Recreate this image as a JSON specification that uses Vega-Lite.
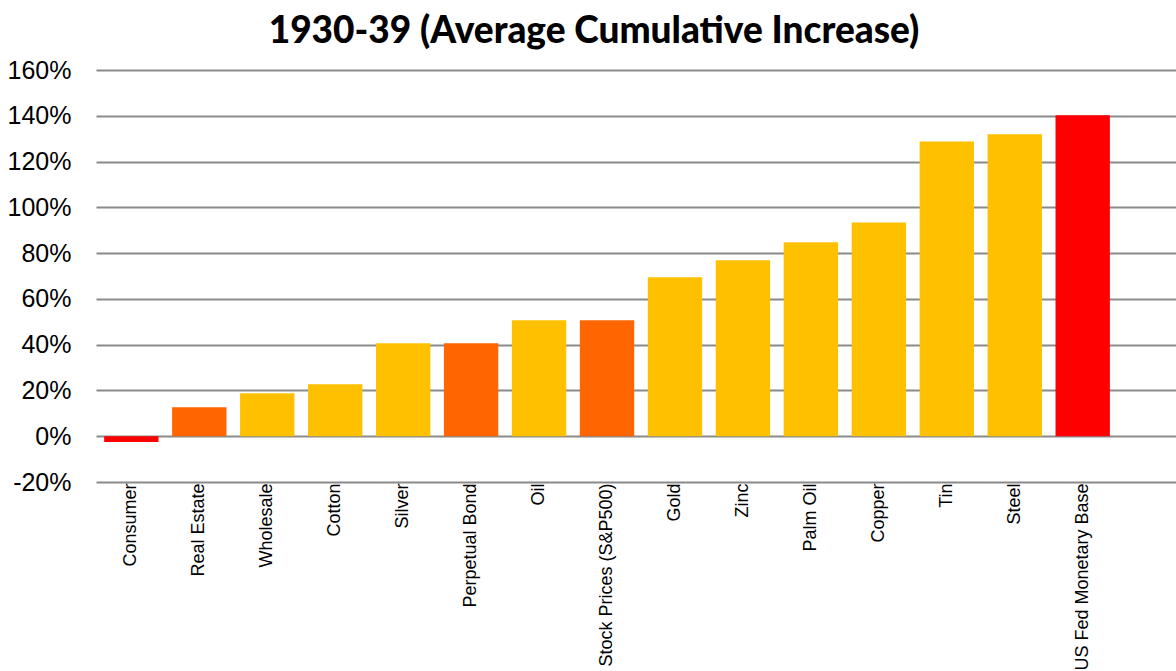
{
  "$schema": "https://vega.github.io/schema/vega-lite/v6.json",
  "autosize": {"type": "none"},
  "width": 1090,
  "height": 412,
  "padding": {"left": 96, "top": 70, "right": 0, "bottom": 189},
  "background": "white",
  "title": {
    "text": "1930-39 (Average Cumulative Increase)",
    "font": "Lato",
    "fontWeight": 900,
    "fontSize": 37,
    "color": "#000000",
    "anchor": "middle",
    "frame": "group",
    "dx": -47,
    "offset": 7
  },
  "data": {
    "values": [
      {"item": "Consumer", "kind": "Money & prices", "change": -0.025},
      {"item": "Real Estate", "kind": "Financial asset", "change": 0.127},
      {"item": "Wholesale", "kind": "Commodity", "change": 0.188},
      {"item": "Cotton", "kind": "Commodity", "change": 0.227},
      {"item": "Silver", "kind": "Commodity", "change": 0.406},
      {"item": "Perpetual Bond", "kind": "Financial asset", "change": 0.406},
      {"item": "Oil", "kind": "Commodity", "change": 0.507},
      {"item": "Stock Prices (S&P500)", "kind": "Financial asset", "change": 0.507},
      {"item": "Gold", "kind": "Commodity", "change": 0.694},
      {"item": "Zinc", "kind": "Commodity", "change": 0.769},
      {"item": "Palm Oil", "kind": "Commodity", "change": 0.847},
      {"item": "Copper", "kind": "Commodity", "change": 0.934},
      {"item": "Tin", "kind": "Commodity", "change": 1.288},
      {"item": "Steel", "kind": "Commodity", "change": 1.319},
      {"item": "US Fed Monetary Base", "kind": "Money & prices", "change": 1.402}
    ]
  },
  "mark": {"type": "bar"},
  "encoding": {
    "x": {
      "field": "item",
      "type": "nominal",
      "scale": {
        "domain": ["Consumer", "Real Estate", "Wholesale", "Cotton", "Silver", "Perpetual Bond", "Oil", "Stock Prices (S&P500)", "Gold", "Zinc", "Palm Oil", "Copper", "Tin", "Steel", "US Fed Monetary Base", " "],
        "paddingInner": 0.2,
        "paddingOuter": 0.12
      },
      "axis": {
        "title": null,
        "labelAngle": -90,
        "labelAlign": "right",
        "labelBaseline": "middle",
        "labelPadding": 1,
        "labelFont": "Liberation Sans",
        "labelFontSize": 18,
        "labelColor": "#000000",
        "labelLimit": 300,
        "domain": false,
        "ticks": false,
        "grid": false
      }
    },
    "y": {
      "field": "change",
      "type": "quantitative",
      "scale": {"domain": [-0.2, 1.6], "nice": false, "zero": false},
      "axis": {
        "title": null,
        "values": [-0.2, 0, 0.2, 0.4, 0.6, 0.8, 1.0, 1.2, 1.4, 1.6],
        "labelExpr": "round(datum.value * 100) + '%'",
        "labelFont": "Liberation Sans",
        "labelFontSize": 25,
        "labelColor": "#000000",
        "labelPadding": 25,
        "labelBaseline": "middle",
        "domain": false,
        "ticks": false,
        "grid": true,
        "gridColor": "#8a8a8a",
        "gridWidth": 2,
        "gridOpacity": 1
      }
    },
    "color": {
      "field": "kind",
      "type": "nominal",
      "scale": {
        "domain": ["Commodity", "Financial asset", "Money & prices"],
        "range": ["#FFC000", "#FF6600", "#FF0000"]
      },
      "legend": null
    }
  },
  "config": {"view": {"stroke": null}}
}
